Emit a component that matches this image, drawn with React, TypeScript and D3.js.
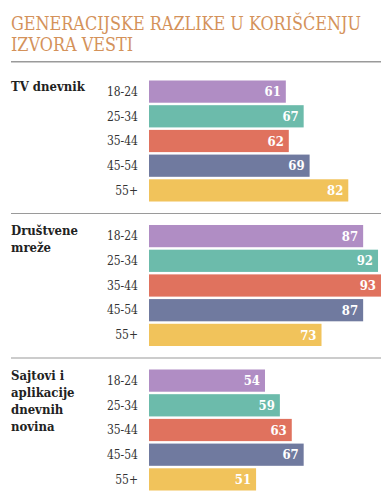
import React, { useLayoutEffect, useRef, useState } from "react";
import * as d3 from "d3";

// data
const titleLines = ["GENERACIJSKE RAZLIKE U KORIŠĆENJU", "IZVORA VESTI"];
const ageGroups = ["18-24", "25-34", "35-44", "45-54", "55+"];
const sources = [
  ["TV dnevnik"],
  ["Društvene", "mreže"],
  ["Sajtovi i", "aplikacije", "dnevnih", "novina"]
];
const tvValues = [61, 67, 62, 69, 82];
const socialValues = [87, 92, 93, 87, 73];
const newspaperValues = [54, 59, 63, 67, 51];
const seriesValues = [tvValues, socialValues, newspaperValues];
const colors = ["#b08dc4", "#6cbbab", "#e0725e", "#707a9f", "#f1c35b"];

const W = 392;
const H = 496;
const FONT = "'DejaVu Serif Condensed', 'DejaVu Serif', serif";

const App = () => {
  const titleRef = useRef<SVGTextElement>(null);
  const [titleSize, setTitleSize] = useState(20);

  // fit first title line to ~350px, like the reference
  useLayoutEffect(() => {
    if (!titleRef.current) return;
    const w = titleRef.current.getComputedTextLength();
    if (w > 0 && Math.abs(w - 350) > 2) setTitleSize(s => (s * 350) / w);
  }, [titleSize]);

  // ----- layout
  const barLeft = 149;
  const sectionTop = 80; // top of first bar group
  const sectionStep = 144.5;
  const groupHeight = 122;

  const x = d3.scaleLinear().domain([15, 93]).range([barLeft, 381]);

  const y = d3
    .scaleBand()
    .domain(ageGroups)
    .range([0, groupHeight])
    .paddingInner(0.1)
    .paddingOuter(0.02);

  return (
    <svg
      width={W}
      height={H}
      style={{ position: "absolute", left: 0, top: 0, background: "#fff", fontFamily: FONT }}
    >
      {/* title */}
      {titleLines.map((t, i) => (
        <text
          key={t}
          ref={i === 0 ? titleRef : undefined}
          x={11}
          y={29.5 + i * 21.5}
          fill="#d4925a"
          style={{ fontFamily: FONT, fontSize: titleSize }}
        >
          {t}
        </text>
      ))}
      <line x1={11} x2={381} y1={61.7} y2={61.7} stroke="#9a9a9a" strokeWidth={1.5} />

      {sources.map((lines, si) => {
        const top = sectionTop + si * sectionStep;
        return (
          <g key={si} transform={`translate(0,${top})`}>
            {si > 0 && (
              <line x1={11} x2={381} y1={-11} y2={-11} stroke="#9a9a9a" strokeWidth={1.2} />
            )}
            {lines.map((l, li) => (
              <text
                key={l}
                x={11}
                y={10.5 + li * 17}
                fill="#222"
                style={{ fontFamily: FONT, fontSize: 13, fontWeight: "bold" }}
              >
                {l}
              </text>
            ))}
            {ageGroups.map((age, ai) => {
              const v = seriesValues[si][ai];
              const by = y(age) as number;
              return (
                <g key={age}>
                  <text
                    x={138}
                    y={by + y.bandwidth() / 2}
                    dy="0.35em"
                    textAnchor="end"
                    fill="#333"
                    style={{ fontFamily: FONT, fontSize: 12 }}
                  >
                    {age}
                  </text>
                  <rect
                    x={barLeft}
                    y={by}
                    width={x(v) - barLeft}
                    height={y.bandwidth()}
                    fill={colors[ai]}
                  />
                  <text
                    x={x(v) - 5}
                    y={by + y.bandwidth() / 2}
                    dy="0.36em"
                    textAnchor="end"
                    fill="#fff"
                    style={{ fontFamily: FONT, fontSize: 13, fontWeight: "bold" }}
                  >
                    {v}
                  </text>
                </g>
              );
            })}
          </g>
        );
      })}
    </svg>
  );
};

export default App;
